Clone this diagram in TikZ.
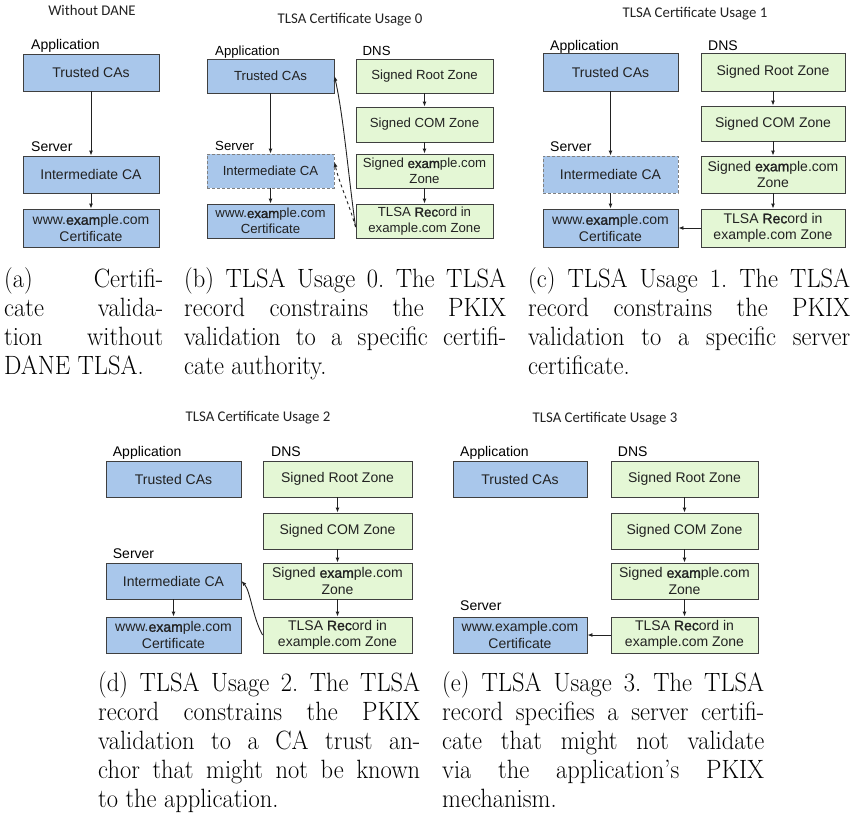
\documentclass[tikz,border=0pt]{standalone}
\usepackage{graphicx}
\usepackage{fontspec}
\newfontfamily\diafont{Liberation Sans}
\newfontfamily\darkfont[FakeBold=1.4]{Liberation Sans}
\newfontfamily\headfont{Carlito}
\usetikzlibrary{arrows.meta,calc}
\definecolor{cablue}{HTML}{A9C7EB}
\definecolor{dnsgreen}{HTML}{E4F7D5}
\definecolor{boxline}{HTML}{3F3F3F}
\definecolor{inktext}{HTML}{222222}
\newcommand{\dk}[1]{{\darkfont #1}}
\newcommand{\jl}[2]{\makebox[#1][s]{#2}}
\newcommand{\capbox}[2]{\scalebox{1}[1.08]{\parbox[t]{#1}{\frenchspacing\noindent #2}}}

\tikzset{
  box/.style={draw=boxline, line width=0.9pt, inner sep=0pt, align=center, text=inktext,
    font=\diafont\fontsize{14}{16.5}\selectfont},
  cabox/.style={box, fill=cablue},
  dnsbox/.style={box, fill=dnsgreen},
  dashbox/.style={cabox, draw=gray, dash pattern=on 3pt off 2pt},
  grp/.style={anchor=base west, inner sep=0pt, font=\diafont\fontsize{14}{16}\selectfont},
  head/.style={anchor=base, inner sep=0pt, text=inktext, font=\headfont\fontsize{14.8}{17}\selectfont},
  arr/.style={-{Latex[length=5pt,width=4pt]}, line width=0.9pt, draw=inktext},
  capnote/.style={anchor=north west, inner sep=0pt, font=\fontsize{24.5}{26.85}\selectfont},
}

\begin{document}
\begin{tikzpicture}[x=1pt, y=-1pt]
\useasboundingbox (0,0) rectangle (854,814);
\fill[white] (0,0) rectangle (854,814);

% (a) without DANE
\node[head] (tta) at (92,15) {Without DANE};
\node[grp] (appa) at (31,49.5) {Application};
\node[grp] (srva) at (31,151.5) {Server};
\node[cabox, minimum width=136pt, minimum height=37pt] (ta) at (91,72.5) {Trusted CAs};
\node[cabox, minimum width=136pt, minimum height=37pt] (ia) at (91,174.5) {Intermediate CA};
\node[cabox, minimum width=136pt, minimum height=38pt] (wa) at (91,228) {www.\dk{exam}ple.com\\Certificate};
\draw[arr] (ta) -- (ia);
\draw[arr] (ia) -- (wa);

% (b) usage 0
\begin{scope}[box/.append style={font=\diafont\fontsize{13.2}{15.5}\selectfont},
  grp/.append style={font=\diafont\fontsize{13.2}{15}\selectfont}]
\node[head] (ttb) at (350,23) {TLSA Certificate Usage 0};
\node[grp] (appb) at (215,55) {Application};
\node[grp] (dnsb) at (362.5,55) {DNS};
\node[grp] (srvb) at (215,150) {Server};
\node[cabox, minimum width=127pt, minimum height=34pt] (tb) at (270.5,76) {Trusted CAs};
\node[dashbox, minimum width=127pt, minimum height=34pt] (ib) at (270.5,171) {Intermediate CA};
\node[cabox, minimum width=127pt, minimum height=34pt] (wb) at (270.5,221) {www.\dk{exam}ple.com\\Certificate};
\node[dnsbox, minimum width=137pt, minimum height=34pt] (rb) at (424.5,76) {Signed Root Zone};
\node[dnsbox, minimum width=137pt, minimum height=35pt] (cb) at (424.5,124.5) {Signed COM Zone};
\node[dnsbox, minimum width=137pt, minimum height=34pt] (eb) at (424.5,171) {Signed \dk{exam}ple.com\\Zone};
\node[dnsbox, minimum width=137pt, minimum height=34pt] (lb) at (424.5,221) {TLSA \dk{Rec}ord in\\example.com Zone};
\end{scope}
\draw[arr] (tb) -- (ib);
\draw[arr] (ib) -- (wb);
\foreach \u/\v in {rb/cb, cb/eb, eb/lb}
  \draw[arr] (\u) -- (\v);
\coordinate (bs) at ($(lb.west)+(0,6)$);
\draw[arr] (bs) .. controls +(-7,-50) and +(9,40) .. (tb.east);
\draw[arr, dashed] (bs) .. controls +(-7,-25) and +(5,22) .. (ib.8);

% (c) usage 1
\node[head] (ttc) at (695,17) {TLSA Certificate Usage 1};
\node[grp] (appc) at (550,50) {Application};
\node[grp] (dnsc) at (708,50) {DNS};
\node[grp] (srvc) at (550,151.5) {Server};
\node[cabox, minimum width=135pt, minimum height=38pt] (tc) at (610.5,72) {Trusted CAs};
\node[dashbox, minimum width=135pt, minimum height=37pt] (ic) at (610.5,174.5) {Intermediate CA};
\node[cabox, minimum width=135pt, minimum height=38pt] (wc) at (610.5,228) {www.\dk{exam}ple.com\\Certificate};
\node[dnsbox, minimum width=144pt, minimum height=38pt] (rc) at (773,72) {Signed Root Zone};
\node[dnsbox, minimum width=144pt, minimum height=35pt] (cc) at (773,123.5) {Signed COM Zone};
\node[dnsbox, minimum width=144pt, minimum height=37pt] (ec) at (773,174.5) {Signed \dk{exam}ple.com\\Zone};
\node[dnsbox, minimum width=144pt, minimum height=38pt] (lc) at (773,228) {TLSA \dk{Rec}ord in\\example.com Zone};
\draw[arr] (tc) -- (ic);
\draw[arr] (ic) -- (wc);
\foreach \u/\v in {rc/cc, cc/ec, ec/lc}
  \draw[arr] (\u) -- (\v);
\draw[arr] (lc) -- (wc);

% (d) usage 2
\node[head] (ttd) at (258,421) {TLSA Certificate Usage 2};
\node[grp] (appd) at (112.7,456.5) {Application};
\node[grp] (dnsd) at (271,456.5) {DNS};
\node[grp] (srvd) at (112.7,558) {Server};
\node[cabox, minimum width=135pt, minimum height=36pt] (td) at (173.5,479) {Trusted CAs};
\node[cabox, minimum width=135pt, minimum height=36pt] (id) at (173.5,581) {Intermediate CA};
\node[cabox, minimum width=135pt, minimum height=36pt] (wd) at (173.5,635) {www.\dk{exam}ple.com\\Certificate};
\node[dnsbox, minimum width=149pt, minimum height=36pt] (rd) at (337.5,479) {Signed Root Zone};
\node[dnsbox, minimum width=149pt, minimum height=36pt] (cd) at (337.5,531) {Signed COM Zone};
\node[dnsbox, minimum width=149pt, minimum height=36pt] (ed) at (337.5,581) {Signed \dk{exam}ple.com\\Zone};
\node[dnsbox, minimum width=149pt, minimum height=36pt] (ld) at (337.5,635) {TLSA \dk{Rec}ord in\\example.com Zone};
\draw[arr] (id) -- (wd);
\foreach \u/\v in {rd/cd, cd/ed, ed/ld}
  \draw[arr] (\u) -- (\v);
\draw[arr] (ld.west) .. controls +(-10,-18) and +(9,10) .. (id.east);

% (e) usage 3
\node[head] (tte) at (605,422) {TLSA Certificate Usage 3};
\node[grp] (appe) at (460,456.5) {Application};
\node[grp] (dnse) at (617.7,456.5) {DNS};
\node[grp] (srve) at (460,610) {Server};
\node[cabox, minimum width=134pt, minimum height=36pt] (te) at (520,479) {Trusted CAs};
\node[cabox, minimum width=134pt, minimum height=36pt] (we) at (520,635) {www.example.com\\Certificate};
\node[dnsbox, minimum width=147pt, minimum height=36pt] (re) at (684.5,479) {Signed Root Zone};
\node[dnsbox, minimum width=147pt, minimum height=36pt] (ce) at (684.5,531) {Signed COM Zone};
\node[dnsbox, minimum width=147pt, minimum height=36pt] (ee) at (684.5,581) {Signed \dk{exam}ple.com\\Zone};
\node[dnsbox, minimum width=147pt, minimum height=36pt] (le) at (684.5,635) {TLSA \dk{Rec}ord in\\example.com Zone};
\foreach \u/\v in {re/ce, ce/ee, ee/le}
  \draw[arr] (\u) -- (\v);
\draw[arr] (le) -- (we);

% captions
\node[capnote] (capa) at (4,267) {\capbox{159pt}{\jl{159pt}{(a) Certifi-}\\
  \jl{159pt}{cate valida-}\\ \jl{159pt}{tion without}\\ DANE TLSA.}};
\node[capnote] (capb) at (184,267) {\capbox{322pt}{\jl{322pt}{(b) TLSA Usage 0. The TLSA}\\
  \jl{322pt}{record constrains the PKIX}\\ \jl{322pt}{validation to a specific certifi-}\\
  cate authority.}};
\node[capnote] (capc) at (528,267) {\capbox{322pt}{\jl{322pt}{(c) TLSA Usage 1. The TLSA}\\
  \jl{322pt}{record constrains the PKIX}\\ \jl{322pt}{validation to a specific server}\\
  certificate.}};
\node[capnote] (capd) at (98,671) {\capbox{322pt}{\jl{322pt}{(d) TLSA Usage 2. The TLSA}\\
  \jl{322pt}{record constrains the PKIX}\\ \jl{322pt}{validation to a CA trust an-}\\
  \jl{322pt}{chor that might not be known}\\ to the application.}};
\node[capnote] (cape) at (442,671) {\capbox{322pt}{\jl{322pt}{(e) TLSA Usage 3. The TLSA}\\
  \jl{322pt}{record specifies a server certifi-}\\ \jl{322pt}{cate that might not validate}\\
  \jl{322pt}{via the application's PKIX}\\ mechanism.}};
\end{tikzpicture}
\end{document}
